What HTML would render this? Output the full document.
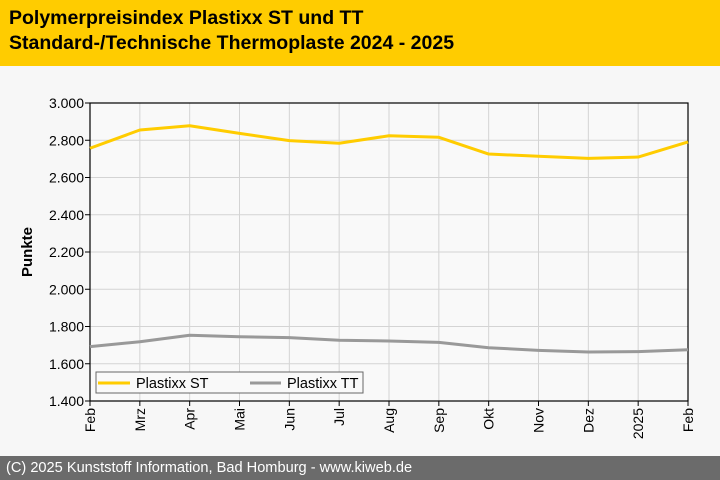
<!DOCTYPE html>
<html><head><meta charset="utf-8"><style>
body{margin:0;width:720px;height:480px;overflow:hidden;background:#f7f7f7;font-family:"Liberation Sans",sans-serif;}
#hdr{position:absolute;left:0;top:0;width:720px;height:66px;background:#ffcc00;}
#hdr div{position:absolute;left:9px;font-weight:bold;font-size:19.5px;color:#000;}
#ftr{position:absolute;left:0;top:456px;width:720px;height:24px;background:#6b6b6b;color:#fff;font-size:14.6px;line-height:24px;padding-left:6px;box-sizing:border-box;}
svg{position:absolute;left:0;top:0;}
</style></head><body>
<div id="hdr">
<div style="top:7px">Polymerpreisindex Plastixx ST und TT</div>
<div style="top:32px">Standard-/Technische Thermoplaste 2024 - 2025</div>
</div>
<svg id="c" width="720" height="480"></svg>
<div id="ftr">(C) 2025 Kunststoff Information, Bad Homburg - www.kiweb.de</div>
<script>
const categories=["Feb","Mrz","Apr","Mai","Jun","Jul","Aug","Sep","Okt","Nov","Dez","2025","Feb"];
const seriesST=[2757,2855,2878,2837,2798,2784,2824,2816,2726,2714,2703,2710,2791];
const seriesTT=[1692,1718,1753,1745,1740,1726,1722,1715,1686,1672,1663,1665,1675];
const yTicks=[1400,1600,1800,2000,2200,2400,2600,2800,3000];
const yTickLabels=["1.400","1.600","1.800","2.000","2.200","2.400","2.600","2.800","3.000"];
const L=90,R=688,T=103,B=401,ymin=1400,ymax=3000;
const xs=i=>L+i*(R-L)/(categories.length-1);
const ys=v=>B-(v-ymin)/(ymax-ymin)*(B-T);
const svg=document.getElementById('c');const NS='http://www.w3.org/2000/svg';
function mk(t,a,p){const e=document.createElementNS(NS,t);for(const k in a)e.setAttribute(k,a[k]);(p||svg).appendChild(e);return e;}
const bg=mk('rect',{x:L,y:T,width:R-L,height:B-T,fill:'#f9f9f9'});


yTicks.forEach((v,i)=>{
 const g=mk('line',{x1:L,x2:R,y1:ys(v),y2:ys(v),stroke:'#d4d4d4'});
 
 
 mk('line',{x1:L-5,x2:L,y1:ys(v),y2:ys(v),stroke:'#000'});
 const t=mk('text',{x:L-6,y:ys(v)+5,'text-anchor':'end','font-size':14,fill:'#000'});
 t.textContent=yTickLabels[i];
 
 
});
categories.forEach((c,i)=>{
 const x=xs(i);
 const g=mk('line',{x1:x,x2:x,y1:T,y2:B,stroke:'#d4d4d4'});
 
 
 mk('line',{x1:x,x2:x,y1:B,y2:B+5,stroke:'#000'});
 const t=mk('text',{x:0,y:0,'text-anchor':'end','font-size':14,fill:'#000',transform:`translate(${x+5},${B+7}) rotate(-90)`});
 t.textContent=c;
 
 
});
mk('rect',{x:L,y:T,width:R-L,height:B-T,fill:'none',stroke:'#000','stroke-width':1.2});
const yt=mk('text',{x:0,y:0,'text-anchor':'middle','font-size':15,'font-weight':'bold',transform:`translate(32,${(T+B)/2}) rotate(-90)`});
yt.textContent='Punkte';


function line(d,col,name){
 const p=mk('polyline',{points:d.map((v,i)=>xs(i)+','+ys(v)).join(' '),fill:'none',stroke:col,'stroke-width':3,'stroke-linejoin':'round'});
 
 
}
line(seriesTT,'#999999','series-plastixx-tt');
line(seriesST,'#ffcc00','series-plastixx-st');
const lg=mk('g',{});


mk('rect',{x:96,y:372,width:267,height:21,fill:'#f9f9f9',stroke:'#666'},lg);
mk('line',{x1:98,x2:130,y1:383,y2:383,stroke:'#ffcc00','stroke-width':3},lg);
const t1=mk('text',{x:136,y:388,'font-size':14.5},lg);t1.textContent='Plastixx ST';


mk('line',{x1:250,x2:281,y1:383,y2:383,stroke:'#999','stroke-width':3},lg);
const t2=mk('text',{x:287,y:388,'font-size':14.5},lg);t2.textContent='Plastixx TT';


</script>
</body></html>
